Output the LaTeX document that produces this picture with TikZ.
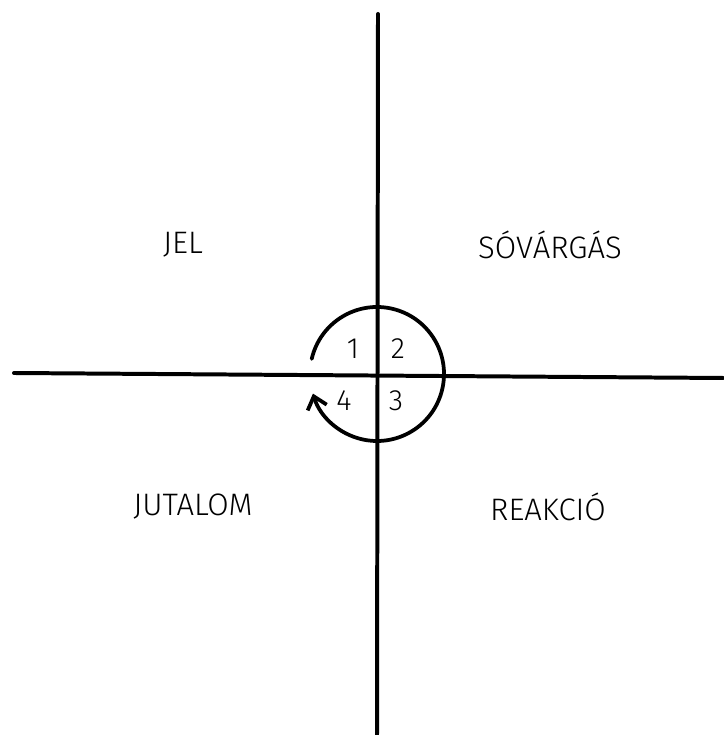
\documentclass[tikz,border=0pt]{standalone}
\usepackage{fontspec}
\setmainfont{Fira Sans Light}
\usetikzlibrary{arrows.meta}
\tikzset{
  % thick marker-like strokes
  axis line/.style={line width=3.4pt, line cap=round},
  loop line/.style={line width=3.2pt, line cap=round,
    -{Straight Barb[length=10pt,width=17pt,line width=3.2pt]}},
  quadrant/.style={font=\fontsize{26.5}{30}\selectfont},
  step number/.style={font=\fontsize{25}{30}\selectfont},
}
\begin{document}
\begin{tikzpicture}[x=0.03cm,y=0.03cm]
\useasboundingbox (0,0) rectangle (723,735);
\coordinate (top) at (378,721);
\coordinate (bottom) at (377,0);
\coordinate (left) at (14,362);
\coordinate (right) at (723,357);
\coordinate (centre) at (377,361);
\draw[axis line] (top) -- (bottom);
\draw[axis line] (left) -- (right);

\draw[loop line] (centre) ++(167:67) arc[start angle=167,end angle=-163,radius=67];

\node[quadrant] (jel) at (183,490) {JEL};
\node[quadrant] (sovargas) at (550,490) {SÓVÁRGÁS};
\node[quadrant] (jutalom) at (193,228) {JUTALOM};
\node[quadrant] (reakcio) at (548,228) {REAKCIÓ};

\node[step number] (n1) at (353,386) {1};
\node[step number] (n2) at (398,386) {2};
\node[step number] (n3) at (396,334) {3};
\node[step number] (n4) at (344,334) {4};
\end{tikzpicture}
\end{document}
